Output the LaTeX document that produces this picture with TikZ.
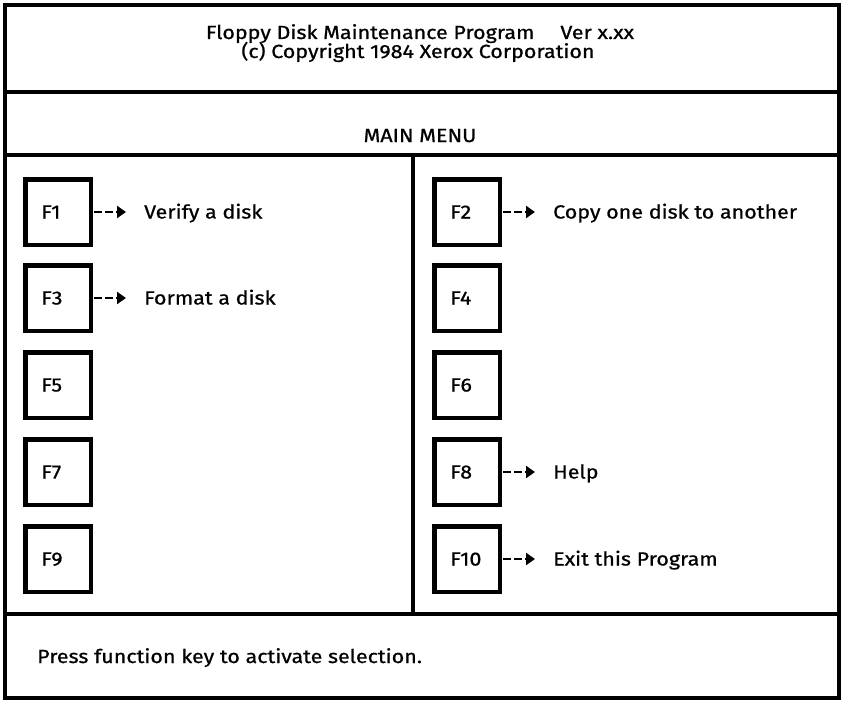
\documentclass[tikz,border=0pt]{standalone}
\usepackage{fontspec}
\setmainfont{Fira Sans}[FakeStretch=1.13, FakeBold=0.8]
\usetikzlibrary{arrows.meta, positioning}

\begin{document}
\begin{tikzpicture}[
		x=1pt, y=-1pt,
		node distance=51pt,
		% Estilos de la pantalla
		frame/.style={draw, line width=4pt},
		txt/.style={font=\fontsize{19}{15}\selectfont, inner sep=0pt},
		fkey/.style={draw, rectangle, line width=4.5pt, minimum height=65.5pt, text width=33.5pt, inner xsep=16pt, align=left, text height=13pt, text depth=0pt, font=\fontsize{19}{15}\selectfont},
		act/.style={txt, text height=13pt, text depth=0pt},
		sel/.style={draw, line width=2.5pt, dash pattern=on 8pt off 3pt, -{Triangle[length=9pt, width=12pt]}, shorten <=1pt, shorten >=18pt}
		]
		\useasboundingbox (0,0) rectangle (842,701);
		
		% --- MARCO ---
		\draw [frame] (5,5) rectangle (839,698);
		\draw [frame] (5,92) -- (839,92);
		\draw [frame] (5,155) -- (839,155);
		\draw [frame] (5,614) -- (839,614);
		\draw [frame] (413,155) -- (413,614);
		
		% --- TEXTOS ---
		\node [txt, anchor=base] (title) at (420,39) {Floppy Disk Maintenance Program\hspace{26pt}Ver x.xx};
		\node [txt, anchor=base] (copyright) at (418,58) {(c) Copyright 1984 Xerox Corporation};
		\node [txt, anchor=base] (mainmenu) at (420,142) {MAIN MENU};
		\node [txt, anchor=base west] (prompt) at (37,663) {Press function key to activate selection.};
		
		% --- TECLAS DE FUNCION ---
		
		% Columna izquierda
		\node [fkey] (f1) at (58,212) {F1};
		\node [fkey] (f3) at (58,298) {F3};
		\node [fkey] (f5) at (58,385) {F5};
		\node [fkey] (f7) at (58,472) {F7};
		\node [fkey] (f9) at (58,559) {F9};
		
		% Columna derecha
		\node [fkey] (f2) at (467,212) {F2};
		\node [fkey] (f4) at (467,298) {F4};
		\node [fkey] (f6) at (467,385) {F6};
		\node [fkey] (f8) at (467,472) {F8};
		\node [fkey] (f10) at (467,559) {F10};
		
		% --- OPCIONES ---
		\node [act, right=of f1] (verify) {Verify a disk};
		\node [act, right=of f3] (format) {Format a disk};
		\node [act, right=of f2] (copy) {Copy one disk to another};
		\node [act, right=of f8] (help) {Help};
		\node [act, right=of f10] (exit) {Exit this Program};
		
		\draw [sel] (f1) -- (verify);
		\draw [sel] (f3) -- (format);
		\draw [sel] (f2) -- (copy);
		\draw [sel] (f8) -- (help);
		\draw [sel] (f10) -- (exit);
		
	\end{tikzpicture}
\end{document}
